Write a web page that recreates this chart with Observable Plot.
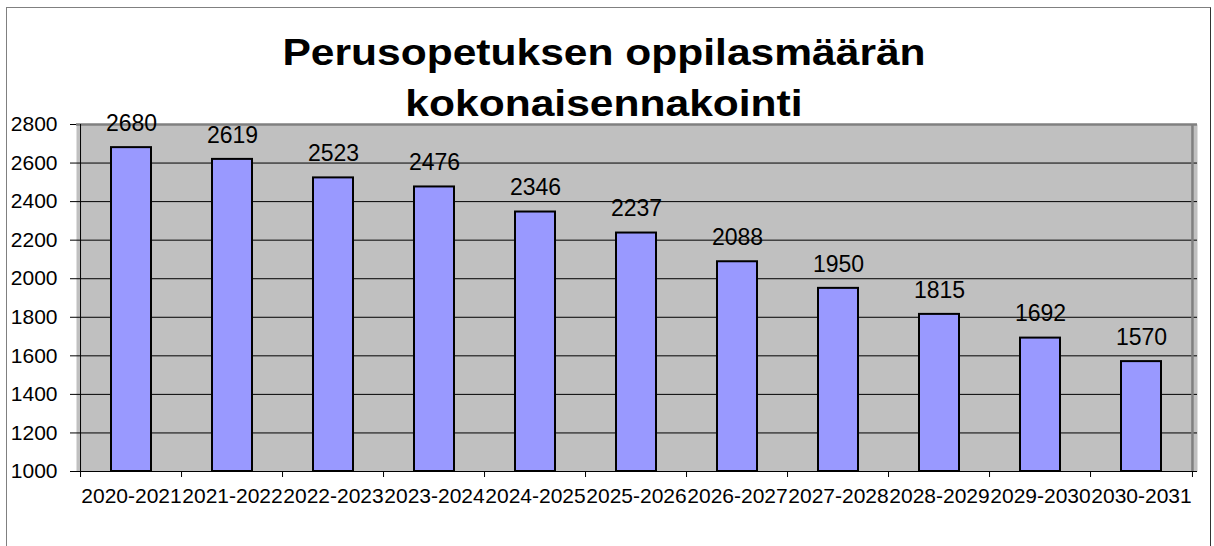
<!DOCTYPE html>
<html>
<head>
<meta charset="utf-8">
<script src="https://cdn.jsdelivr.net/npm/d3@7"></script>
<script src="https://cdn.jsdelivr.net/npm/@observablehq/plot@0.6"></script>
<style>
  html, body { margin: 0; padding: 0; background: white; }
  #wrap { position: relative; width: 1214px; height: 546px; overflow: hidden; font-family: "Liberation Sans", Arial, sans-serif; }
  #border { position: absolute; left: 6px; top: 7px; width: 1203px; height: 600px; border-left: 1px solid #808080; border-top: 1px solid #808080; border-right: 1px solid #333; }
  #chart { position: absolute; left: 0; top: 0; }
  .title { position: absolute; left: -3px; width: 1214px; text-align: center; font-weight: bold; font-size: 37px; line-height: 51px; color: black; white-space: nowrap; transform: scaleX(1.15); transform-origin: 607px 0; }
</style>
</head>
<body>
<div id="wrap">
  <div id="border"></div>
  <div id="chart"></div>
  <div class="title" style="top:27px">Perusopetuksen oppilasmäärän</div>
  <div class="title" style="top:78px">kokonaisennakointi</div>
</div>
<script>
const years = ["2020-2021","2021-2022","2022-2023","2023-2024","2024-2025","2025-2026","2026-2027","2027-2028","2028-2029","2029-2030","2030-2031"];
const students = [2680, 2619, 2523, 2476, 2346, 2237, 2088, 1950, 1815, 1692, 1570];
const yTicks = [1000, 1200, 1400, 1600, 1800, 2000, 2200, 2400, 2600, 2800];

const data = years.map((y, i) => ({year: y, value: students[i]}));
const W = 1214, H = 546, mL = 76, mR = 17, mT = 124, mB = 75;
const step = (W - mL - mR) / years.length;

const chart = Plot.plot({
  width: W, height: H,
  marginLeft: mL, marginRight: mR, marginTop: mT, marginBottom: mB,
  style: {background: "transparent", fontFamily: "'Liberation Sans', Arial, sans-serif", overflow: "visible", color: "black"},
  x: {domain: years, paddingInner: 0.6, paddingOuter: 0.3, label: null},
  y: {domain: [1000, 2800], label: null},
  marks: [
    Plot.frame({fill: "#c0c0c0", stroke: null}),
    Plot.gridY(yTicks, {stroke: "black", strokeOpacity: 1, strokeWidth: 1}),
    Plot.ruleY([2800], {stroke: "#808080", strokeWidth: 2.5}),
    Plot.ruleX([years[years.length - 1]], {dx: step / 2, stroke: "#808080", strokeWidth: 2.5}),
    Plot.barY(data, {x: "year", y1: 1000, y2: "value", fill: "#9999ff", stroke: "black", strokeWidth: 2}),
    Plot.text(data, {x: "year", y: "value", text: d => String(d.value), dy: -24, fontSize: 23, fill: "black"}),
    Plot.ruleX([years[0]], {dx: -step / 2, stroke: "black", strokeWidth: 1}),
    Plot.ruleY([1000], {stroke: "black", strokeWidth: 1}),
    Plot.axisY(yTicks, {tickSize: 6, tickPadding: 13, fontSize: 21, tickFormat: d => String(d), label: null, stroke: "black"}),
    Plot.axisX(years, {tickSize: 6, tickFormat: () => "", dx: -step / 2, label: null, stroke: "black"}),
    Plot.axisX([years[years.length - 1]], {tickSize: 6, tickFormat: () => "", dx: step / 2, label: null, stroke: "black"}),
    Plot.axisX(years, {tickSize: 0, tickPadding: 17, fontSize: 21, label: null})
  ]
});
document.getElementById("chart").appendChild(chart);
</script>
</body>
</html>
